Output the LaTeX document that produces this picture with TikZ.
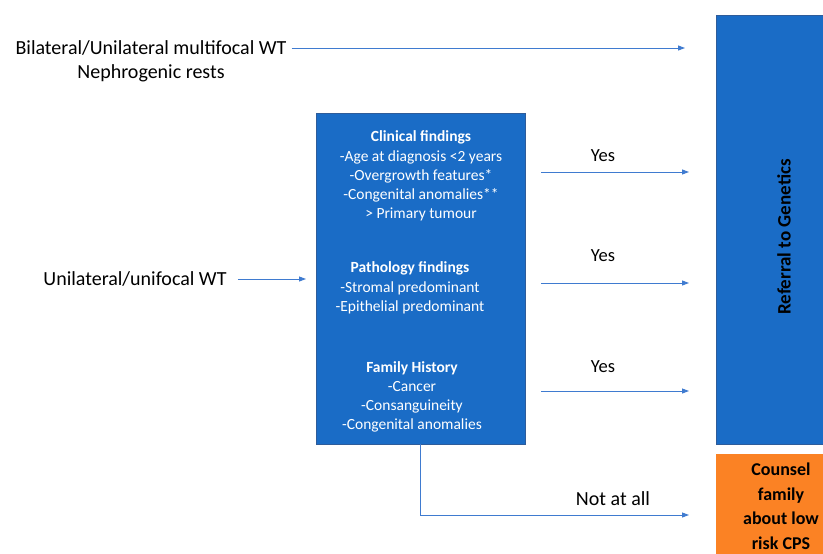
\documentclass[tikz,border=0pt]{standalone}
\usepackage{fontspec}
\setmainfont{Carlito}
\usetikzlibrary{arrows.meta}
\definecolor{boxblue}{HTML}{1A6CC6}
\definecolor{boxedge}{HTML}{2E5C9A}
\definecolor{arrowblue}{HTML}{3F7BD0}
\definecolor{orangebox}{HTML}{FB8224}
\begin{document}
\begin{tikzpicture}[x=1pt,y=-1pt,
  lbl/.style={font=\fontsize{20}{24}\selectfont, inner sep=0pt},
  yeslbl/.style={font=\fontsize{18.5}{22}\selectfont, inner sep=0pt},
  midtxt/.style={font=\fontsize{15.5}{19}\selectfont, text=white, align=center, inner sep=0pt, anchor=north},
  midhead/.style={font=\fontsize{15.5}{19}\selectfont\bfseries, text=white, inner sep=0pt},
  conn/.style={draw=arrowblue, line width=0.9pt, -{Triangle[length=7pt,width=5pt]}},
  bigbox/.style={draw=boxedge, line width=0.6pt, fill=boxblue, inner sep=0pt},
  orbox/.style={fill=orangebox, inner sep=0pt}]
\useasboundingbox (0,0) rectangle (823,554);
\clip (0,0) rectangle (823,554);
\fill[white] (0,0) rectangle (823,554);
% right boxes
\node[bigbox, minimum width=136pt, minimum height=429pt] (ref) at (784,229.5) {};
\node[inner sep=0pt, font=\fontsize{19}{22}\selectfont\bfseries, rotate=90] (reftxt) at (784,237) {Referral to Genetics};
\node[orbox, minimum width=136pt, minimum height=146pt] (cps) at (784,527) {};
\node[inner sep=0pt, font=\fontsize{18}{24.5}\selectfont\bfseries, align=center] (cpstxt) at (781,506) {Counsel\\family\\about low\\risk CPS};
% left labels
\node[lbl] (bil) at (151,48) {Bilateral/Unilateral multifocal WT};
\node[lbl] (neph) at (151,73) {Nephrogenic rests};
\node[lbl] (uni) at (135,279) {Unilateral/unifocal WT};
% middle box
\node[bigbox, minimum width=209pt, minimum height=331pt] (mid) at (420.5,278.5) {};
\node[midhead] (clin) at (421,137) {Clinical findings};
\node[midtxt] (clintxt) at (421,150.5) {-Age at diagnosis <2 years\\-Overgrowth features*\\-Congenital anomalies**\\> Primary tumour};
\node[midhead] (path) at (410,268) {Pathology findings};
\node[midtxt] (pathtxt) at (410,281.5) {-Stromal predominant\\-Epithelial predominant};
\node[midhead] (fam) at (412,368) {Family History};
\node[midtxt] (famtxt) at (412,381.5) {-Cancer\\-Consanguineity\\-Congenital anomalies};
% arrow labels
\node[yeslbl] (yes1) at (603,156) {Yes};
\node[yeslbl] (yes2) at (603,256) {Yes};
\node[yeslbl] (yes3) at (603,367) {Yes};
\node[lbl] (nota) at (613,499) {Not at all};
% coordinates
\coordinate (e1) at (685,48);
\coordinate (e2) at (306,279);
\coordinate (s3) at (541,172); \coordinate (e3) at (689,172);
\coordinate (s4) at (541,283); \coordinate (e4) at (689,283);
\coordinate (s5) at (541,391); \coordinate (e5) at (689,391);
\coordinate (s6) at (420,444); \coordinate (e6) at (689,515);
% connectors
\draw[conn] ([xshift=5pt]bil.east) -- (e1);
\draw[conn] ([xshift=11pt]uni.east) -- (e2);
\draw[conn] (s3) -- (e3);
\draw[conn] (s4) -- (e4);
\draw[conn] (s5) -- (e5);
\draw[conn] (s6) |- (e6);
\end{tikzpicture}
\end{document}
